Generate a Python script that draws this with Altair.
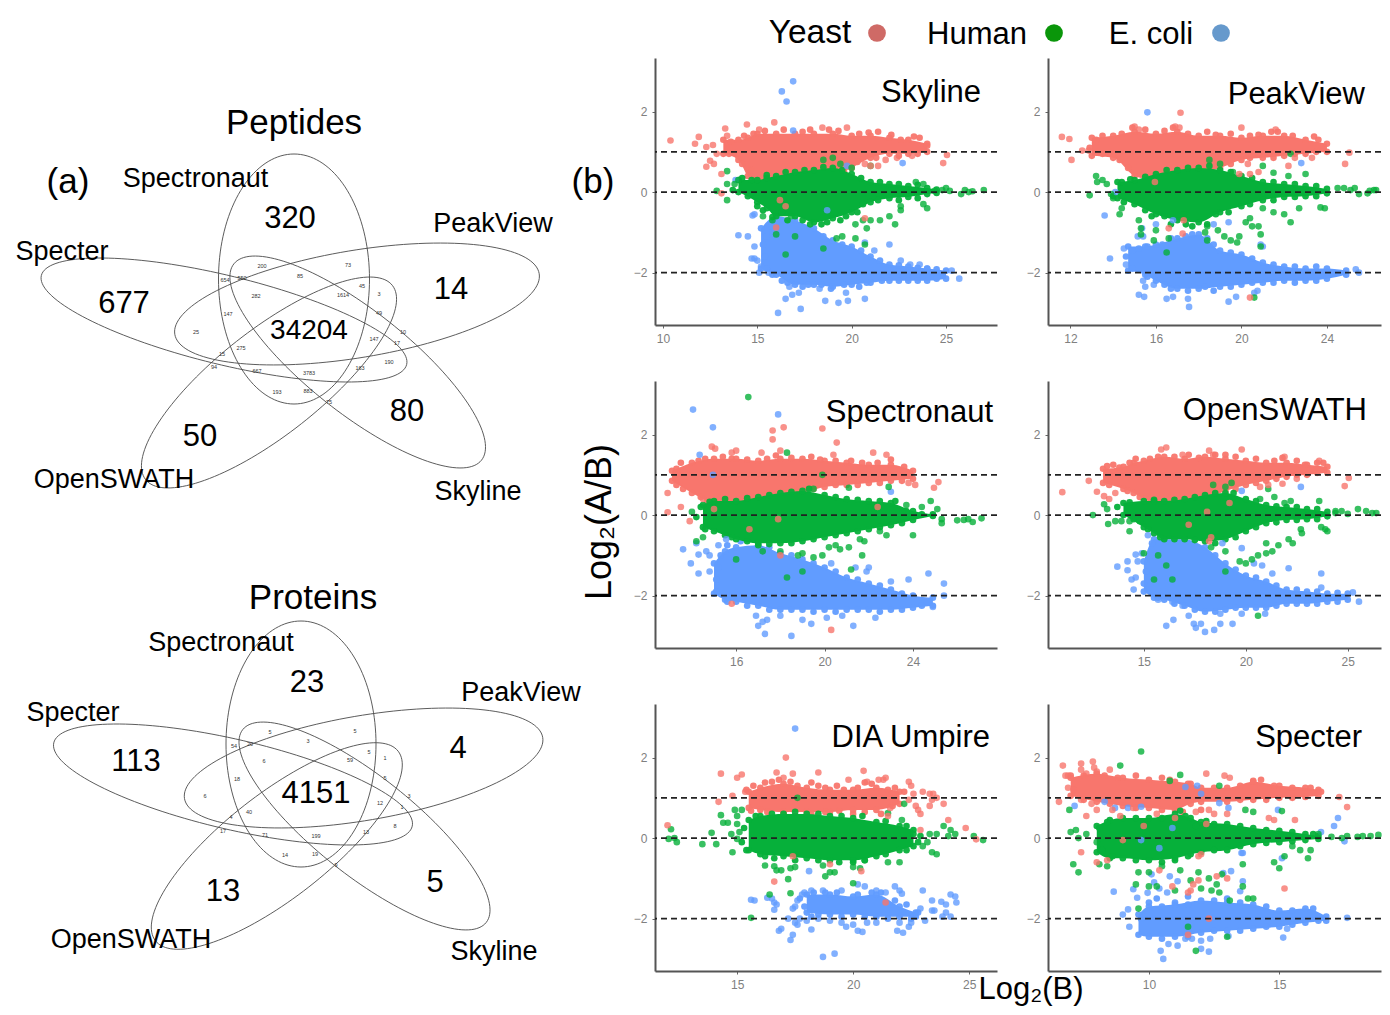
import math
import altair as alt
import pandas as pd

# ---------- colours ----------
YEAST, HUMAN, ECOLI = "#F8766D", "#06B03A", "#619CFF"

# ---------- Venn diagrams: (centre x, centre y, semi-major, semi-minor, tilt) in image units ----------
PEP_ELLIPSES = [(294, 279, 125, 75.5, 90), (224, 320, 188, 44.4, 13.7), (357, 304, 184.7, 53.6, -9.45),
                (357.7, 362, 158, 51, 38.4), (269, 382.5, 157, 52.4, -38.2)]
PRO_ELLIPSES = [(301, 744, 123, 75, 90), (233, 784.5, 184, 45, 13.1), (363.6, 768, 181.7, 52.3, -9.7),
                (364.5, 826, 155.3, 49.4, 38.4), (276.8, 846, 154, 52, -38)]

HEADINGS = [("Peptides", 294, 121, 35), ("Proteins", 313, 596, 35), ("(a)", 68, 180, 35), ("(b)", 593, 180, 35)]
SET_LABELS = [("Spectronaut", 195.5, 177), ("PeakView", 493, 222), ("Specter", 62, 250), ("OpenSWATH", 114, 478),
              ("Skyline", 478, 490), ("Spectronaut", 221, 641), ("PeakView", 521, 691), ("Specter", 73, 711),
              ("OpenSWATH", 131, 938), ("Skyline", 494, 950)]
BIG_COUNTS = [("320", 290, 217, 31), ("677", 124, 302, 31), ("14", 451, 288, 31), ("34204", 309, 329, 28),
              ("80", 407, 410, 31), ("50", 200, 435, 31), ("23", 307, 681, 31), ("113", 136, 760, 31),
              ("4", 458, 747, 31), ("4151", 316, 792, 31), ("5", 435, 881, 31), ("13", 223, 890, 31)]
SMALL_COUNTS = [("200", 262, 264), ("73", 348, 263), ("654", 225, 278), ("550", 242, 276), ("85", 300, 274),
                ("45", 362, 284), ("3", 379, 292), ("282", 256, 294), ("1614", 343, 293), ("147", 228, 312),
                ("49", 379, 311), ("25", 196, 330), ("10", 403, 330), ("17", 397, 341), ("147", 374, 337),
                ("15", 222, 352), ("275", 241, 346), ("94", 214, 365), ("667", 257, 369), ("3783", 309, 371),
                ("163", 360, 366), ("190", 389, 360), ("193", 277, 390), ("883", 308, 389), ("75", 329, 400),
                ("5", 270, 730), ("5", 355, 729), ("54", 234, 744), ("20", 250, 742), ("3", 308, 739),
                ("5", 369, 750), ("1", 385, 756), ("6", 264, 759), ("59", 350, 758), ("18", 237, 777),
                ("5", 385, 776), ("6", 205, 794), ("3", 409, 794), ("1", 402, 805), ("12", 380, 801),
                ("4", 231, 815), ("40", 249, 810), ("17", 223, 829), ("71", 265, 833), ("199", 316, 834),
                ("13", 366, 830), ("8", 395, 824), ("14", 285, 853), ("19", 315, 852), ("9", 336, 863)]
LEGEND_TEXT = [("Yeast", 810, 31, 33.5), ("Human", 977, 33, 31), ("E. coli", 1151, 33, 31)]
LEGEND_DOTS = [("Yeast", 877, 33), ("Human", 1054, 33), ("E. coli", 1221, 33)]

# ---------- MA panels ----------
# *_B = dense band (x, low, high), *_F = points on the fringe of the dense cloud, *_P = scattered points
SKY_YB = [(13.2,.95,1.3),(14,.8,1.3),(14.5,.4,1.35),(15,.25,1.45),(16,.15,1.45),(17,.2,1.45),(18,.25,1.45),(19,.4,1.45),(20,.6,1.4),(21,.85,1.4),(22,.95,1.35),(23,.95,1.3),(24,1.0,1.2)]
SKY_YF = [(13.6,1.25),(14.3,1.4),(14.8,1.45),(15.4,1.52),(16.4,1.55),(17.4,1.5),(17.8,1.55),(18.8,1.55),(19.3,1.52),(20.4,1.45),(20.9,1.48),(21.4,1.5),(22.1,1.42),(22.6,1.3),(23.3,1.38),(23.6,1.35),(24,1.15),(13.5,.95),(14.2,.7),(14.7,.55),(19.6,.5),(20.3,.75),(21.3,.85),(22.5,.9),(23.5,.95)]
SKY_YP = [(10.4,1.28),(11.7,1.2),(11.9,1.37),(12.3,.63),(12.3,1.12),(12.5,.78),(12.65,1.17),(12.7,.7),(12.85,.95),(13.3,1.58),(13.4,1.4),(13.1,.45),(14.45,1.68),(15.9,1.73),(18.45,1.6),(19.75,1.6),(20.7,.7),(21,.65),(21.4,.65),(21.8,.8),(22.4,.85),(23.2,.9),(24.85,.72),(25.05,.92),(15.1,1.55),(13.1,-.03),(20.7,-.65),(16,-.88),(16.2,-.2),(16.5,-.35)]
SKY_HB = [(14,0,.3),(15,-.25,.3),(15.5,-.4,.35),(16,-.6,.4),(17,-.6,.5),(18,-.75,.55),(19,-.65,.6),(20,-.5,.45),(21,-.25,.25),(22,-.15,.2),(23,-.12,.15),(24,-.05,.1),(24.5,-.02,.06)]
SKY_HF = [(13.7,.05),(14.2,.35),(14.5,-.1),(14.7,.3),(15,-.35),(15.3,-.45),(15.8,-.62),(16.3,-.5),(16.6,-.7),(17.4,-.7),(17.8,-.8),(18.4,-.8),(18.7,-.75),(19.4,-.7),(19.7,-.6),(20.3,-.5),(20.6,-.3),(21.4,-.2),(22.5,-.2),(23.5,-.15),(15.5,.42),(16.5,.5),(17.5,.55),(18.5,.62),(19.5,.55),(20.5,.35),(21.5,.25),(22.5,.2),(23.5,.18)]
SKY_HP = [(12.85,.03),(13.4,-.2),(13.4,.2),(13.4,.52),(14,.3),(13.8,.2),(24,-.4),(23.8,-.3),(23.8,.2),(23.4,.25),(22.6,-.45),(22.6,-.35),(24.8,.05),(25,.1),(25.2,.03),(24.4,.03),(25.8,-.05),(26,.05),(26.2,0),(26.4,.02),(27,.05),(19,.85),(18.5,.8),(19.4,.7),(20,.6),(21,.65),(21,-.7),(20.6,-.7),(20.8,-.9),(21.5,-.7),(22,-.6),(22.3,-.8),(20.2,-.8),(19.5,-1.1),(19.2,-1.15),(20.2,-1.15),(20.7,-1.3),(18.5,-1.4),(16.5,-1.55),(17,-1.1),(16,-1.05),(15.3,-.6),(15.8,-.7),(16.8,-.6)]
SKY_EB = [(15.2,-1.9,-.9),(16,-2.05,-.6),(17,-2.3,-.7),(18,-2.3,-.9),(19,-2.35,-1.2),(20,-2.3,-1.35),(21,-2.25,-1.6),(22,-2.2,-1.8),(23,-2.2,-1.85),(24,-2.2,-1.9),(25,-2.15,-1.95)]
SKY_EF = [(15.3,-1.3),(15.5,-1.1),(15.4,-1.6),(15.5,-1.9),(15.8,-1.0),(15.8,-2.05),(16.3,-2.2),(16.6,-2.25),(17.4,-2.35),(17.7,-2.3),(18.4,-2.3),(18.9,-2.4),(19.6,-2.3),(20.4,-2.35),(20.8,-2.25),(21.6,-2.2),(22.5,-2.2),(23.5,-2.2),(24.5,-2.15),(19.5,-1.3),(20.5,-1.45),(21.5,-1.7),(22.5,-1.82),(23.5,-1.88),(24.5,-1.92),(18.5,-1.1)]
SKY_EP = [(16.3,2.5),(16.9,2.75),(16.55,2.25),(16.9,1.53),(22.7,.72),(19.75,.65),(13.85,.3),(14,-1.07),(14.5,-1.1),(14.75,-.58),(14.85,-.55),(14.7,-1.65),(14.85,-1.65),(14.85,-1.35),(15,-1.7),(15.2,-1.85),(15.1,-2),(15.6,-2),(16.1,-3),(17.3,-2.9),(16.5,-2.65),(16.85,-2.55),(17.2,-2.5),(18.6,-2.7),(19.3,-2.75),(19.8,-2.7),(19.7,-2.5),(20.7,-2.65),(18.3,-2.4),(16.7,-2.35),(25.7,-2.15),(25.3,-1.95),(22,-1.3),(21.2,-1.45),(20.7,-1.25),(24,-1.9),(23.6,-1.8),(23.1,-1.8),(22.6,-1.7),(18.7,-.45)]

PKV_YB = [(13,.9,1.35),(14,.85,1.4),(15,.4,1.5),(16,.3,1.45),(17,.3,1.5),(18,.45,1.4),(19,.6,1.4),(20,.8,1.35),(21,.85,1.4),(22,.9,1.4),(23,.95,1.3),(24,1,1.2)]
PKV_YF = [(12.9,1.1),(13.2,1.3),(13.5,1.4),(14.4,1.45),(14.9,1.6),(15.5,1.55),(16.4,1.52),(16.8,1.6),(17.5,1.45),(18.4,1.5),(18.8,1.42),(19.5,1.45),(20.4,1.4),(20.8,1.42),(21.4,1.5),(21.7,1.5),(22.4,1.4),(23.4,1.38),(23.6,1.3),(13.5,.95),(14.3,.8),(14.7,.6),(19.5,.7),(20.4,.85),(21.5,.85),(22.5,.95),(23.5,1.0)]
PKV_YP = [(11.6,1.37),(11.95,1.32),(12.05,.8),(12.55,1.03),(12.85,1.03),(15,1.63),(15.2,1.55),(16.9,1.63),(17.1,1.6),(17.15,1.97),(20,1.6),(21.6,1.55),(20.3,.7),(20.8,.5),(22.2,.65),(22.5,.85),(23.3,.85),(24.85,.7),(25.05,.98),(16.6,-.9),(17.3,-.7),(17.25,-1.03),(20.4,-2.62),(15.95,.25),(19.9,.45),(20.4,.45)]
PKV_HB = [(14.2,-.15,.25),(15,-.3,.3),(16,-.55,.45),(17,-.7,.55),(18,-.75,.6),(19,-.5,.55),(20,-.35,.4),(21,-.2,.25),(22,-.12,.2),(23,-.1,.15),(24,-.03,.08)]
PKV_HF = [(14,-.1),(14.4,.25),(14.5,-.25),(14.8,.32),(15.5,-.45),(15.8,-.6),(16.4,-.6),(16.7,-.8),(17.4,-.8),(17.7,-.85),(18.4,-.8),(18.8,-.55),(19.4,-.5),(20.4,-.3),(21.5,-.2),(22.5,-.12),(23.5,-.1),(15.5,.38),(16.5,.55),(17.5,.6),(18.5,.65),(19.5,.5),(20.5,.35),(21.5,.25),(22.5,.2),(23.5,.15)]
PKV_HP = [(12.9,-.08),(13.2,.4),(13.25,.25),(13.5,.3),(13.7,.2),(13.9,-.05),(14,-.15),(14.4,-.4),(14.3,-.55),(15.2,-.7),(15.3,-.9),(15.3,-1.05),(15.9,-1.2),(16,-.95),(16.6,-1.15),(17.3,-.55),(18.3,-1),(18.4,-1.2),(18.4,-.85),(18.9,-.95),(19.2,-1.1),(19.5,-1.2),(19.9,-1.1),(19.8,-1.25),(20.2,-.75),(20.4,-.65),(20.5,-.85),(20.8,-.85),(20.9,-1.05),(20.9,-1.35),(21,-.4),(21.5,-.5),(22,-.55),(22.3,-.75),(22.7,-.4),(23.7,-.38),(23.9,-.4),(18.5,.8),(19,.7),(19.6,.5),(21,.65),(21.5,.48),(22.2,.4),(23,.45),(22.3,.95),(24.5,.1),(24.8,.1),(25.1,.05),(25.3,.1),(25.5,-.05),(25.9,-.03),(26,.03),(26.2,.05),(26.3,.05),(16.5,-1.5),(20.6,-2.62)]
PKV_EB = [(14.7,-1.95,-1.35),(15.5,-2.05,-1.35),(16,-2.2,-1.3),(17,-2.4,-1.15),(18,-2.4,-1.05),(19,-2.35,-1.45),(20,-2.3,-1.55),(21,-2.25,-1.75),(22,-2.2,-1.85),(23,-2.2,-1.9),(24,-2.15,-1.9),(24.9,-2.05,-1.95)]
PKV_EF = [(14.6,-1.6),(14.9,-1.45),(15.2,-1.4),(14.9,-1.9),(15.6,-1.35),(16.3,-1.3),(16.7,-1.15),(17.4,-1.1),(17.7,-1.05),(18.4,-1.15),(18.7,-1.3),(19.5,-1.5),(20.5,-1.65),(21.5,-1.8),(22.5,-1.85),(23.5,-1.85),(15.6,-2.1),(16.4,-2.3),(16.7,-2.4),(17.5,-2.45),(18.3,-2.35),(18.7,-2.45),(19.5,-2.35),(20.5,-2.25),(21.5,-2.25),(22.5,-2.25),(23.5,-2.2)]
PKV_EP = [(15.6,1.98),(22.8,.72),(14.1,0),(13.6,-.58),(13.85,-1.65),(14.5,-1.4),(14.6,-1.8),(15.15,-1.1),(15.4,-1.1),(15.35,-.9),(15.4,-2.2),(15.5,-2.35),(15.9,-2.3),(15.2,-2.55),(15.45,-2.6),(16.5,-2.65),(16.8,-2.6),(17.5,-2.65),(17.55,-2.85),(19.4,-2.72),(19.75,-2.6),(20.6,-2.5),(20.75,-2.45),(25.35,-1.92),(25.5,-2),(21,-1.35),(20.9,-1.3),(16,-.8),(16.8,-.7),(18.7,-.8),(19.4,-.75)]

SPN_YB = [(13.1,.85,1.1),(14,.55,1.3),(15,.3,1.4),(16,.25,1.4),(17,.3,1.35),(18,.45,1.4),(19,.55,1.4),(20,.7,1.35),(21,.75,1.3),(22,.8,1.25),(23,.85,1.25),(24,.9,1.1)]
SPN_YF = [(13.3,1.15),(13.5,1.3),(14.3,1.35),(14.6,1.4),(15.4,1.45),(15.8,1.4),(16.5,1.38),(17.4,1.4),(17.8,1.48),(18.5,1.42),(19.4,1.45),(19.8,1.38),(20.5,1.35),(21.2,1.35),(21.7,1.3),(22.4,1.3),(23,1.38),(23.6,1.2),(13.3,.75),(13.6,.65),(14.4,.45),(14.7,.35),(19.5,.65),(20.5,.75),(21.5,.75),(22.5,.8),(23.5,.85)]
SPN_YP = [(12.9,.55),(12.9,.07),(13.5,.2),(13.9,-.15),(14.5,.4),(14.9,1.7),(15.05,1.65),(15.8,1.55),(16,1.6),(17.15,1.55),(17.65,2.1),(17.65,1.88),(18.15,2.18),(18,1.6),(19.9,2.15),(20.55,1.8),(20.4,1.5),(22.2,1.55),(22.8,1.5),(23.8,.8),(24.1,.75),(24.95,.68),(25.15,.82),(22.4,.2),(15.8,-2.2),(20.3,-2.85),(18,-1),(17.9,-.1),(16.6,-.35),(15,.15)]
SPN_HB = [(14.5,-.3,.25),(15,-.4,.35),(16,-.6,.35),(17,-.7,.45),(18,-.7,.55),(19,-.65,.6),(20,-.55,.5),(21,-.45,.4),(22,-.35,.35),(23,-.25,.3),(24,-.12,.1),(24.9,-.02,.02)]
SPN_HF = [(14.2,-.05),(14.4,.2),(14.6,-.35),(14.8,.33),(15.5,-.5),(15.8,-.55),(16.5,-.65),(17,-.75),(17.5,-.72),(18.5,-.7),(19.5,-.6),(20.5,-.5),(21.5,-.4),(22.5,-.3),(23.5,-.2),(15.5,.4),(16.5,.42),(17.5,.5),(18.5,.58),(19.3,.65),(20.5,.45),(21.5,.38),(22.5,.35),(23.2,.35),(23.7,.1),(24.4,.02)]
SPN_HP = [(14,.08),(14.2,-.65),(14.5,-.55),(19,-.95),(19.5,-1.05),(19.9,-1),(20.2,-.8),(20.5,-.75),(20.7,-.85),(21.1,-.8),(21.2,-1.35),(21.6,-.6),(21.8,-.65),(21.7,-1),(22.5,-.4),(22.8,-.5),(24,-.5),(23.7,.25),(24.4,.2),(24.8,.35),(25.1,.15),(25.3,-.1),(25.3,-.2),(26,-.13),(26.3,-.12),(26.5,-.1),(26.7,-.17),(27.1,-.08),(18.3,1.55),(16.55,2.93),(22.9,.7),(21.1,.68),(18.8,-1),(18.3,-1.55),(19,-1.4),(17.2,-.9),(16,-1.1),(18,-.9),(19.5,.65),(19.9,1)]
SPN_EB = [(15,-1.95,-1.2),(15.5,-2.1,-.9),(16,-2.15,-.8),(17,-2.25,-.75),(18,-2.35,-.95),(19,-2.35,-1.1),(20,-2.35,-1.3),(21,-2.35,-1.55),(22,-2.35,-1.7),(23,-2.35,-1.85),(24,-2.3,-2),(24.9,-2.25,-2.05)]
SPN_EF = [(15.1,-1.6),(15.2,-1.3),(15.1,-1.9),(15.3,-1),(15.6,-.75),(16.2,-.65),(16.5,-.6),(17.5,-.8),(18.5,-1),(19.5,-1.2),(20.5,-1.4),(21.5,-1.6),(22.5,-1.75),(23.5,-1.95),(15.6,-2.15),(16.5,-2.25),(17.5,-2.35),(18.5,-2.35),(19.5,-2.4),(20.5,-2.4),(21.5,-2.35),(22.5,-2.4),(23.5,-2.35),(24.4,-2.25)]
SPN_EP = [(14.05,2.62),(14.95,2.18),(14.35,1.5),(14.95,1),(17.9,2.5),(23,.58),(13.6,-.85),(13.95,-1.2),(14.3,-1.45),(14.3,-.98),(14.2,-.7),(14.65,-.9),(14.8,-1),(14.8,-1.4),(15.2,-.75),(15.55,-.6),(16.9,-2.5),(17,-2.75),(17.2,-2.65),(17.4,-2.6),(17.3,-2.95),(18.5,-3),(18,-2.5),(19,-2.6),(19.4,-2.7),(20.1,-2.55),(20.8,-2.5),(21.3,-2.75),(22.3,-2.55),(21.4,-1.3),(21.9,-1.4),(22,-1.3),(23,-1.65),(23.8,-1.6),(24.7,-1.45),(25.4,-1.7),(25.4,-2),(24.9,-2.28),(20.3,-1.2)]

OSW_YB = [(13,.8,1.15),(14,.65,1.2),(14.5,.55,1.3),(15,.4,1.35),(16,.2,1.45),(17,.25,1.4),(18,.4,1.45),(19,.6,1.4),(20,.75,1.35),(21,.85,1.3),(22,.95,1.3),(23,1,1.25),(24,1.05,1.2)]
OSW_YF = [(13.2,1.22),(13.5,1.25),(13.8,1.18),(14.3,1.3),(14.6,1.4),(15.3,1.4),(15.7,1.45),(16.5,1.45),(17.2,1.5),(17.7,1.42),(18.5,1.5),(19,1.5),(19.5,1.45),(20.5,1.4),(21.4,1.35),(21.8,1.42),(22.5,1.35),(22.9,1.25),(23.5,1.3),(23.8,1.3),(13.3,.75),(14.2,.6),(14.8,.45),(15.4,.3),(19.5,.65),(20.5,.8),(21.5,.9),(22.5,1),(23.5,1.05)]
OSW_YP = [(11,.57),(12.3,.85),(12.7,.58),(13.05,.47),(13.3,.4),(13.6,.55),(15.85,1.63),(16.1,1.68),(16.9,1.5),(18.2,1.6),(18.4,1.5),(19.8,1.63),(21.8,.78),(21.9,1.45),(22.5,.9),(23.6,1.35),(24.85,.72),(25.05,.92),(20.7,.7),(21.1,.75),(19.2,.3),(17.2,-.24),(18.3,-.55),(18.2,-.65),(18.1,.08)]
OSW_HB = [(14,0,.3),(15,-.3,.35),(15.5,-.45,.35),(16,-.6,.35),(17,-.6,.4),(18,-.65,.5),(19,-.6,.55),(20,-.4,.4),(21,-.2,.25),(22,-.12,.2),(23,-.1,.15),(24,-.03,.08)]
OSW_HF = [(13.7,.2),(14.3,.32),(14.5,-.1),(14.8,-.15),(15.2,-.35),(15.8,-.55),(16.5,-.6),(17.5,-.62),(18.5,-.7),(19.5,-.55),(20.5,-.3),(21.5,-.18),(22.5,-.12),(23.5,-.1),(15.5,.38),(16.5,.38),(17.5,.45),(18.5,.55),(19.4,.55),(20.5,.35),(21.5,.22),(22.5,.2),(23.5,.15)]
OSW_HP = [(12.5,0),(13.05,.27),(13.2,.15),(13.25,-.22),(13.6,-.15),(13.9,-.15),(14.3,-.15),(14.3,-.4),(15,-.95),(15.7,-1),(16.1,-1.25),(16.4,-1.6),(15.5,-1.6),(19,-1.4),(18.3,-.8),(18.4,.75),(19,.7),(19.3,.8),(21.1,.65),(20.7,.4),(21.4,.45),(21.9,.3),(22.2,.35),(23.6,.35),(23.7,-.3),(23.9,-.35),(24,-.4),(22.7,-.35),(22.75,-.45),(22.1,-.6),(22.3,-.7),(21.6,-.75),(21.3,-.9),(21,-.95),(21,-.7),(20.6,-1),(20.3,-1.1),(20,-1.2),(19.7,-1.15),(19,-.9),(24.4,.1),(24.7,.1),(25,.03),(25.5,.15),(25.9,.1),(26.2,.05),(26.4,.05),(20.6,-2.5),(24.4,.05)]
OSW_EB = [(15,-1.9,-1.15),(15.5,-2.05,-.6),(16,-2.1,-.6),(17,-2.25,-.6),(18,-2.4,-.8),(19,-2.35,-1.2),(20,-2.3,-1.5),(21,-2.3,-1.65),(22,-2.2,-1.85),(23,-2.2,-1.9),(24,-2.15,-1.95),(25,-2.1,-1.95)]
OSW_EF = [(15.1,-1.4),(15,-1.7),(15.3,-1.0),(15.4,-.7),(15.7,-2.05),(16.5,-2.2),(17.5,-2.35),(18.5,-2.4),(19.5,-2.3),(20.5,-2.3),(21.5,-2.25),(22.5,-2.2),(23.5,-2.2),(24.5,-2.15),(18.5,-1),(19.5,-1.35),(20.5,-1.55),(21.5,-1.75),(22.5,-1.85),(23.5,-1.9),(24.5,-1.93)]
OSW_EP = [(19.8,.6),(22.7,.7),(13.7,-1.28),(14.2,-1.15),(14.2,-1.37),(14.4,-1.6),(14.6,-1.55),(14.5,-1.85),(14.6,-.98),(14.7,-1.15),(14.9,-.95),(15.2,-.5),(15.7,-2.1),(16.4,-2.15),(16.1,-2.75),(16.45,-2.6),(16.9,-2.25),(17.2,-2.5),(17.45,-2.7),(17.55,-2.8),(17.8,-2.7),(18,-2.9),(18.45,-2.85),(18.75,-2.7),(19.35,-2.7),(18.75,-2.45),(19.8,-2.45),(20.95,-2.45),(22.1,-1.32),(23.7,-1.45),(23.7,-1.8),(25.25,-1.92),(25.55,-2.15),(21.3,-1.45),(20.4,-1.2),(20.8,-1.25),(19.8,-.82),(18.85,-.7)]

DIA_YB = [(15.5,.75,1.15),(16,.7,1.25),(17,.65,1.35),(18,.65,1.25),(19,.65,1.2),(20,.7,1.2),(21,.7,1.25),(22,.85,1.15)]
DIA_YF = [(15.4,1.2),(15.7,1.3),(16.2,1.38),(16.5,1.4),(16.8,1.45),(17.3,1.4),(17.6,1.3),(18.2,1.38),(18.5,1.3),(18.8,1.25),(19.3,1.3),(19.6,1.2),(20.2,1.25),(20.5,1.38),(20.8,1.35),(21.5,1.2),(21.8,1.25),(22.2,1.15),(15.6,.68),(16.3,.65),(17,.6),(17.5,.55),(18.2,.6),(18.8,.65),(19.4,.68),(20,.6),(20.5,.65),(21.2,.6),(21.7,.8)]
DIA_YP = [(12,.32),(14.2,.9),(14.3,1.6),(15,1.5),(15.2,1.58),(14.8,1.05),(15.35,1.15),(16.7,1.63),(17,1.5),(17.1,2),(17.4,1.6),(18.5,1.63),(19.8,1.45),(20.45,1.67),(20.6,1.4),(21.3,1.45),(21.4,1.5),(21.1,1.45),(22.4,1.4),(22.5,1.3),(22.6,1.1),(22.7,.8),(22.8,.7),(22.9,.6),(23,1.15),(23.3,1.1),(23.4,.95),(23.45,1.1),(23.3,.8),(23.6,1),(23.9,.85),(24.1,.45),(24.85,.25),(25.3,-.03),(22.9,.2),(22.4,.95),(17.4,-.45),(19,-.65),(20.35,-.82),(16.6,-1.08),(21.4,-1.6),(21.6,.75),(21.5,.55)]
DIA_HB = [(15.5,-.3,.45),(16,-.4,.55),(17,-.45,.6),(18,-.5,.6),(19,-.55,.55),(20,-.55,.5),(21,-.45,.4),(22,-.3,.3),(22.6,-.2,.2)]
DIA_HF = [(15.3,.25),(15.2,-.1),(15.4,-.3),(15.8,.55),(16.5,.6),(16.2,-.45),(16.6,-.5),(17.5,.65),(17.5,-.55),(18.5,.6),(18.5,-.55),(19.5,.55),(19.4,-.6),(20.4,.55),(20,-.6),(20.5,-.55),(21.4,.42),(21.4,-.4),(22.3,.3),(22.3,-.3),(22.6,.1),(22.9,.05),(22.8,-.1)]
DIA_HP = [(12.05,-.02),(12.15,.22),(12.3,0),(12.4,-.1),(13.5,-.15),(13.9,.13),(14.1,-.15),(14.3,.57),(14.4,.38),(14.6,.38),(14.9,.7),(15,.55),(15.2,.7),(15,-.02),(14.75,.1),(14.8,-.35),(15.1,.15),(15,.35),(17.6,1),(22.2,.85),(21.5,.62),(22.1,.45),(16.2,-.68),(16.6,-.7),(16.7,-.8),(16.9,-.8),(17.3,-.75),(17.5,-.72),(17.2,-1.02),(18.7,-.68),(18.8,-.95),(19,-.85),(19.2,-.85),(20,-.72),(20,-1.12),(20.3,-.75),(20.5,-.55),(21.5,-.6),(22,-.6),(23,-.2),(23.2,-.1),(23.3,.1),(23.4,-.35),(23.6,-.4),(23.6,.1),(23.9,.3),(24.2,.2),(24.4,.1),(24.1,.05),(25.2,.05),(25.6,-.05),(16.4,-1.4),(17.3,-1.37),(15.6,-1.98)]
DIA_EB = [(18,-1.85,-1.4),(19,-1.9,-1.4),(20,-1.9,-1.45),(21,-1.95,-1.4),(22,-1.95,-1.7),(22.7,-1.95,-1.85)]
DIA_EF = [(17.7,-1.5),(17.9,-1.7),(18.3,-1.35),(18.5,-1.9),(18.8,-1.35),(19.3,-1.35),(19.5,-1.95),(20.2,-1.4),(20.5,-1.95),(20.8,-1.35),(21.2,-1.35),(21.5,-2),(21.8,-1.55),(22.3,-1.65),(22.5,-2),(22.8,-1.85),(18.2,-1.95)]
DIA_EP = [(17.5,2.72),(15.6,-1.53),(15.75,-1.55),(16.3,-1.48),(16.5,-1.5),(16.6,-1.6),(16.6,-1.78),(16.7,-1.65),(16.8,-2.3),(16.9,-2.25),(17.4,-1.75),(17.5,-1.7),(17.6,-1.55),(17.8,-1.4),(17.9,-1.35),(17.2,-2),(17.5,-2.1),(17.7,-2),(18,-2.05),(17.6,-2.15),(17.4,-2.4),(17.3,-2.53),(18.2,-2.27),(18.7,-2.95),(19.2,-2.87),(18.1,-.82),(18.2,-1.3),(18.7,-1.3),(19,-2.05),(19.5,-2.1),(19.7,-2.2),(20,-2.15),(20.2,-2.3),(20.4,-2.33),(20.6,-2.1),(21,-2.1),(21.8,-1.2),(22,-1.3),(22.1,-1.38),(23,-1.3),(22.9,-1.75),(23.4,-1.55),(23.4,-1.8),(23.5,-1.8),(23.8,-1.58),(24,-1.65),(24,-1.85),(24.2,-1.4),(24.4,-1.45),(24.45,-1.6),(23.1,-2.05),(23.85,-1.95),(24.2,-1.95),(21.9,-2.3),(22.15,-2.35),(22.4,-2.2),(22.5,-2.1),(22,-2.1),(20.2,-1.15),(20.5,-1.2),(21,-1.3),(21.4,-1.35),(19.5,-1.3),(18.5,-2)]

SPC_YB = [(7,1.05,1.5),(8,.9,1.6),(9,.8,1.5),(10,.75,1.45),(11,.7,1.4),(11.6,.85,1.35),(12,.9,1.25),(13,.9,1.25),(14,.95,1.4),(15,1,1.3),(16,1.02,1.25),(16.5,1.05,1.2)]
SPC_YF = [(7,1.55),(7.5,1.55),(8.3,1.55),(8.8,1.5),(9.5,1.55),(10.5,1.5),(10.8,1.45),(11.5,1.35),(12.5,1.25),(13.5,1.3),(14,1.42),(14.3,1.45),(14.8,1.3),(15.5,1.25),(16.2,1.25),(16.6,1.15),(7.5,.95),(8.5,.85),(9.5,.75),(10.5,.7),(11.3,.65),(12,.7),(13.5,.95),(14.5,.95),(15.5,1)]
SPC_YP = [(6.55,.9),(6.7,1.8),(6.8,1.55),(6.9,1.55),(6.9,1.25),(7.1,1.2),(7.4,1.85),(7.4,1.7),(7.6,1.6),(7.85,1.9),(7.9,1.75),(8,1.65),(8.5,1.7),(7.4,.95),(7.6,.55),(7.8,.85),(8,.7),(8.6,.7),(7.4,-.35),(8,-.6),(8.9,.55),(9.4,.75),(10.3,.6),(11,.5),(11.8,.65),(12.2,.35),(12.3,.7),(12.5,.6),(12.2,1.6),(12.9,1.55),(13.1,1.5),(14.8,.45),(14.6,.5),(15.6,.45),(17.3,1.02),(17.6,.77),(16.5,1.15),(13,.6),(15.2,-1.25),(12.6,-.95),(12,-.4),(11.9,-.45),(11.9,-1.05),(11.7,-1.15),(11.6,-1.3),(11.5,-1.35),(10.4,-.8),(10.9,-1.2),(9,-.05),(8.4,-.55),(9.8,.3),(12.3,-2),(11.5,-2.4),(13,-1)]
SPC_HB = [(8,-.35,.3),(8.5,-.5,.45),(9,-.5,.5),(10,-.55,.5),(11,-.5,.6),(11.6,-.4,.5),(12,-.35,.4),(13,-.3,.35),(14,-.15,.25),(15,-.1,.18),(16,-.05,.1),(16.5,-.02,.05)]
SPC_HF = [(8.1,.25),(8.2,-.3),(8.4,.4),(8.6,-.45),(9.5,.5),(9.5,-.55),(10.5,.5),(10.5,-.6),(11.2,.68),(11.4,.55),(11,-.55),(11.8,.3),(12.2,.42),(12.5,.35),(11.5,-.45),(12.5,-.3),(13.5,.3),(13.5,-.2),(14.5,.2),(14.5,-.12),(15.5,.15),(15.5,-.08),(16.3,.1)]
SPC_HP = [(6.95,.7),(7,.15),(7.2,.2),(7.3,0),(7.1,-.65),(7.3,-.85),(7.6,.1),(8,-.1),(8.1,-.65),(8.4,-.7),(8.9,1.8),(9.7,2.15),(11.2,1.57),(10.8,1.42),(13.7,.7),(14,.65),(15.1,.67),(12.7,1.3),(9.6,-.85),(10,-.85),(10.5,-.7),(9.5,-1.15),(9.6,-1.75),(10,-1.2),(10.3,-1.2),(11,-1.3),(11.2,-.8),(11.6,-1.05),(11.9,-.85),(12,-1.25),(12.3,-1),(12.4,-1.3),(12.6,-1.15),(12.7,-1.35),(12.8,-.9),(13.1,-1.55),(13.6,-1.2),(13.8,-1.5),(13.6,-.65),(14.8,-.6),(15,-.75),(15.2,-.45),(15.5,-.2),(15.8,-.3),(16.1,-.5),(16.2,-.3),(16.5,.1),(17,.03),(17.4,0),(17.6,.05),(18,.03),(18.2,.05),(18.5,.05),(18.8,.08),(11.8,-2.8),(13,-2.45),(11.5,-2.2),(14,-1.5)]
SPC_EB = [(9.6,-2.4,-1.9),(10,-2.45,-1.7),(11,-2.45,-1.65),(12,-2.35,-1.55),(13,-2.3,-1.6),(14,-2.25,-1.65),(15,-2.2,-1.8),(16,-2.1,-1.75),(16.8,-2.05,-1.95)]
SPC_EF = [(9.7,-2),(9.8,-1.95),(10,-1.6),(10.5,-1.7),(10.3,-1.5),(11,-1.6),(11.5,-1.65),(11.5,-1.45),(12.5,-1.55),(13,-1.5),(13.5,-1.6),(14.5,-1.7),(15.5,-1.8),(16.3,-1.75),(10.5,-2.5),(11.5,-2.45),(12.5,-2.3),(13.5,-2.3),(14.5,-2.2),(15.5,-2.15),(16.5,-2.05)]
SPC_EP = [(7.15,.8),(8.65,-1.33),(9.25,-2.2),(9.4,-1.27),(9.55,-1.48),(9.2,-1.77),(9,-1.9),(9.95,-1.36),(8.3,.9),(8.7,.75),(9.2,.75),(9.7,.78),(10.1,-.9),(10.2,-1.1),(10.4,-1.25),(10.7,-1.35),(11.1,-1.07),(10.8,-.95),(11.4,1.27),(11.85,1.3),(12,1.1),(12.7,.87),(13.05,.75),(12.85,-.87),(13.15,-.82),(13.55,-.37),(13.6,-1.07),(13.5,-1.32),(14.95,.7),(17.25,.5),(17.1,.3),(17.5,-.08),(16.6,.15),(15.1,-.5),(15.3,-2.25),(15.15,-2.47),(17.6,-1.98),(12,-2.75),(12.3,-2.82),(10.55,-3),(10.45,-2.8),(10.75,-2.63),(11.1,-2.67),(11.65,-2.5),(12,-2.55),(12.35,-2.5),(11.4,-2.5),(13.05,-2.43),(9.7,-.05),(10.4,-.25),(10.9,.25),(13.6,-.37)]

Y_DOMAIN = [-3.3, 3.33]
Y_TICKS = [-2, 0, 2]
REF_LINES = [-2, 0, 1]
PANEL_H = 267
POINT_SIZE = 44

def frame(rows, names):
    return pd.DataFrame(rows, columns=names)

def panel(title, tx, ty, domain, ticks, width, yb, yf, yp, hb, hf, hp, eb, ef, ep):
    yscale = alt.Scale(domain=Y_DOMAIN, nice=False, zero=False)
    yaxis = alt.Axis(values=Y_TICKS, title=None, grid=False, format="d")
    x = alt.X("x:Q", scale=alt.Scale(domain=domain, nice=False, zero=False),
              axis=alt.Axis(values=ticks, title=None, grid=False, format="d"))
    y = alt.Y("y:Q", scale=yscale, axis=yaxis)
    layers = []
    # the dense clouds: yeast, then E. coli, with the human cloud over both
    for colour, band, fringe in [(YEAST, yb, yf), (ECOLI, eb, ef), (HUMAN, hb, hf)]:
        b = frame(band, ["x", "lo", "hi"])
        layers.append(alt.Chart(b).mark_area(color=colour, opacity=1, interpolate="monotone").encode(
            x=x, y=alt.Y("lo:Q", scale=yscale, axis=yaxis), y2="hi:Q"))
        edge = pd.concat([b[["x", "lo"]].rename(columns={"lo": "y"}), b[["x", "hi"]].rename(columns={"hi": "y"}),
                          frame(fringe, ["x", "y"])])
        layers.append(alt.Chart(edge).mark_circle(color=colour, size=POINT_SIZE, opacity=0.95).encode(x=x, y=y))
    # scattered points stay visible over the clouds
    for colour, pts in [(ECOLI, ep), (HUMAN, hp), (YEAST, yp)]:
        layers.append(alt.Chart(frame(pts, ["x", "y"])).mark_circle(color=colour, size=POINT_SIZE, opacity=0.8).encode(x=x, y=y))
    layers.append(alt.Chart(pd.DataFrame({"y": REF_LINES})).mark_rule(color="#222222", strokeWidth=1.6, strokeDash=[6, 4]).encode(y=y))
    layers.append(alt.Chart(pd.DataFrame({"t": [title]})).mark_text(align="right", baseline="middle", fontSize=31, font="Liberation Sans", color="black").encode(
        text="t:N", x=alt.value(tx), y=alt.value(ty)))
    return alt.layer(*layers).properties(width=width, height=PANEL_H)

p1 = panel("Skyline", 326, 35, [9.58, 27.7], [10, 15, 20, 25], 342, SKY_YB, SKY_YF, SKY_YP, SKY_HB, SKY_HF, SKY_HP, SKY_EB, SKY_EF, SKY_EP)
p2 = panel("PeakView", 317, 37, [10.95, 26.53], [12, 16, 20, 24], 333, PKV_YB, PKV_YF, PKV_YP, PKV_HB, PKV_HF, PKV_HP, PKV_EB, PKV_EF, PKV_EP)
p3 = panel("Spectronaut", 338, 32, [12.33, 27.8], [16, 20, 24], 342, SPN_YB, SPN_YF, SPN_YP, SPN_HB, SPN_HF, SPN_HP, SPN_EB, SPN_EF, SPN_EP)
p4 = panel("OpenSWATH", 319, 30, [10.3, 26.63], [15, 20, 25], 333, OSW_YB, OSW_YF, OSW_YP, OSW_HB, OSW_HF, OSW_HP, OSW_EB, OSW_EF, OSW_EP)
p5 = panel("DIA Umpire", 335, 34, [11.46, 26.2], [15, 20, 25], 342, DIA_YB, DIA_YF, DIA_YP, DIA_HB, DIA_HF, DIA_HP, DIA_EB, DIA_EF, DIA_EP)
p6 = panel("Specter", 314, 34, [6.13, 18.9], [10, 15], 333, SPC_YB, SPC_YF, SPC_YP, SPC_HB, SPC_HF, SPC_HP, SPC_EB, SPC_EF, SPC_EP)

# ---------- left canvas: its upper part overflows the plot area so the panel grid starts lower ----------
CX = alt.X("x:Q", scale=alt.Scale(domain=[8, 655], nice=False, zero=False), axis=None)
CY = alt.Y("y:Q", scale=alt.Scale(domain=[1006, 58], nice=False, zero=False), axis=None)
TEXT_DY = 1.5

def ellipse_rows(spec, key):
    cx, cy, a, b, tilt = spec
    t = math.radians(tilt)
    out = []
    for i in range(0, 145):
        u = math.radians(i * 2.5)
        out.append({"e": key, "o": i,
                    "x": cx + a * math.cos(u) * math.cos(t) - b * math.sin(u) * math.sin(t),
                    "y": cy + a * math.cos(u) * math.sin(t) + b * math.sin(u) * math.cos(t)})
    return out

rows = []
for k, s in enumerate(PEP_ELLIPSES + PRO_ELLIPSES):
    rows += ellipse_rows(s, k)
ell = alt.Chart(pd.DataFrame(rows)).mark_line(color="#4a4a4a", strokeWidth=0.9).encode(
    x=CX, y=CY, detail="e:N", order="o:Q")

def text_layer(data, has_size=True, **kw):
    names = ["t", "x", "y", "s"] if has_size else ["t", "x", "y"]
    df = pd.DataFrame(data, columns=names)
    df["y"] = df["y"] + TEXT_DY
    enc = dict(x=CX, y=CY, text="t:N")
    if has_size:
        enc["size"] = alt.Size("s:Q", scale=None, legend=None)
    return alt.Chart(df).mark_text(font="Liberation Sans", baseline="middle", align="center", **kw).encode(**enc)

# transparent anchors fix the page's top-left corner and bottom
anchor = alt.Chart(pd.DataFrame({"x": [8.5, 8.5], "y": [8.5, 1005.5]})).mark_point(opacity=0, size=1).encode(x=CX, y=CY)

canvas = alt.layer(
    anchor,
    ell,
    text_layer(HEADINGS, color="black"),
    text_layer(BIG_COUNTS, color="black"),
    text_layer(SET_LABELS, has_size=False, fontSize=27, color="black"),
    text_layer(SMALL_COUNTS, has_size=False, fontSize=5.5, color="#333333"),
    text_layer(LEGEND_TEXT, color="black"),
    alt.Chart(pd.DataFrame(LEGEND_DOTS, columns=["t", "x", "y"])).mark_circle(size=314, opacity=1).encode(
        x=CX, y=CY, color=alt.Color("t:N", scale=alt.Scale(domain=["Yeast", "Human", "E. coli"],
                                                           range=["#CF6A66", "#0A960A", "#6699CC"]), legend=None)),
    alt.Chart(pd.DataFrame({"t": ["Log₂(A/B)"], "x": [600], "y": [522]})).mark_text(
        font="Liberation Sans", fontSize=36, angle=270, color="black", align="center", baseline="middle").encode(x=CX, y=CY, text="t:N"),
    alt.Chart(pd.DataFrame({"t": ["Log₂(B)"], "x": [1031], "y": [990]})).mark_text(
        font="Liberation Sans", fontSize=31, color="black", align="center", baseline="middle").encode(x=CX, y=CY, text="t:N"),
).properties(width=647, height=948)

grid = alt.concat(p1, p2, p3, p4, p5, p6, columns=2, spacing=alt.RowColnumber(row=56, column=51), bounds="flush")

chart = alt.hconcat(canvas, grid, spacing=0, bounds="flush").resolve_scale(
    x="independent", y="independent", color="independent", size="independent"
).configure_view(stroke=None).configure_axis(
    domainColor="#555555", domainWidth=2, tickColor="#666666", tickSize=3, tickWidth=1,
    labelColor="#808080", labelFont="Liberation Sans", labelFontSize=12, labelPadding=5, labelFlush=False,
).properties(padding=0, background="white")

chart.save("out.html", embed_options={"renderer": "svg", "actions": False})
